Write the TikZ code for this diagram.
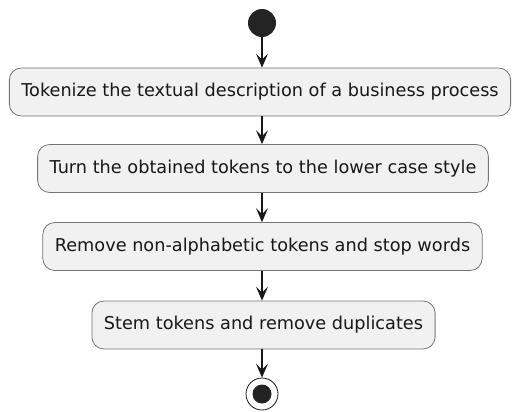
\documentclass[tikz,border=0pt]{standalone}
\usepackage{fontspec}
\setmainfont{DejaVu Sans}
\usetikzlibrary{arrows.meta}
\usetikzlibrary{positioning}
\definecolor{actfill}{HTML}{F1F1F1}
\definecolor{actline}{HTML}{181818}

\begin{document}
\begin{tikzpicture}[x = 1pt, y = -1pt, act node/.style={rounded corners = 12pt, draw = actline!60, fill = actfill, line width = 0.8pt, minimum height = 48pt, inner xsep = 12pt, font=\fontsize{17.7}{20}\selectfont, text = actline}, start node/.style={circle, fill = actline!95, minimum size = 28pt, inner sep = 0pt}, stop node/.style={circle, draw = actline, fill = white, line width = 0.8pt, minimum size = 32pt, inner sep = 0pt}, flow/.style={line width = 1.2pt, draw = actline, -{Stealth[length = 14pt, width = 12pt, inset = 6pt]}}]
      \useasboundingbox (0, 0) rectangle (514, 412);
      \node[start node] (start) at (262, 23) {};
      \node[act node] (tok) at (260, 92) {Tokenize the textual description of a business process};
      \node[act node] (low) at (263, 168.5) {Turn the obtained tokens to the lower case style};
      \node[act node] (rem) at (262.5, 246.5) {Remove non-alphabetic tokens and stop words};
      \node[act node] (stem) at (263.5, 325) {Stem tokens and remove duplicates};
      \node[stop node] (stop) at (262, 394) {};
      \fill[actline!95] (stop.center) circle (9.5);
      \draw[flow] (start) --  (start |- tok.north);
      \draw[flow] (start |- tok.south) --  (start |- low.north);
      \draw[flow] (start |- low.south) --  (start |- rem.north);
      \draw[flow] (start |- rem.south) --  (start |- stem.north);
      \draw[flow] (start |- stem.south) --  (stop);
    \end{tikzpicture}
\end{document}
